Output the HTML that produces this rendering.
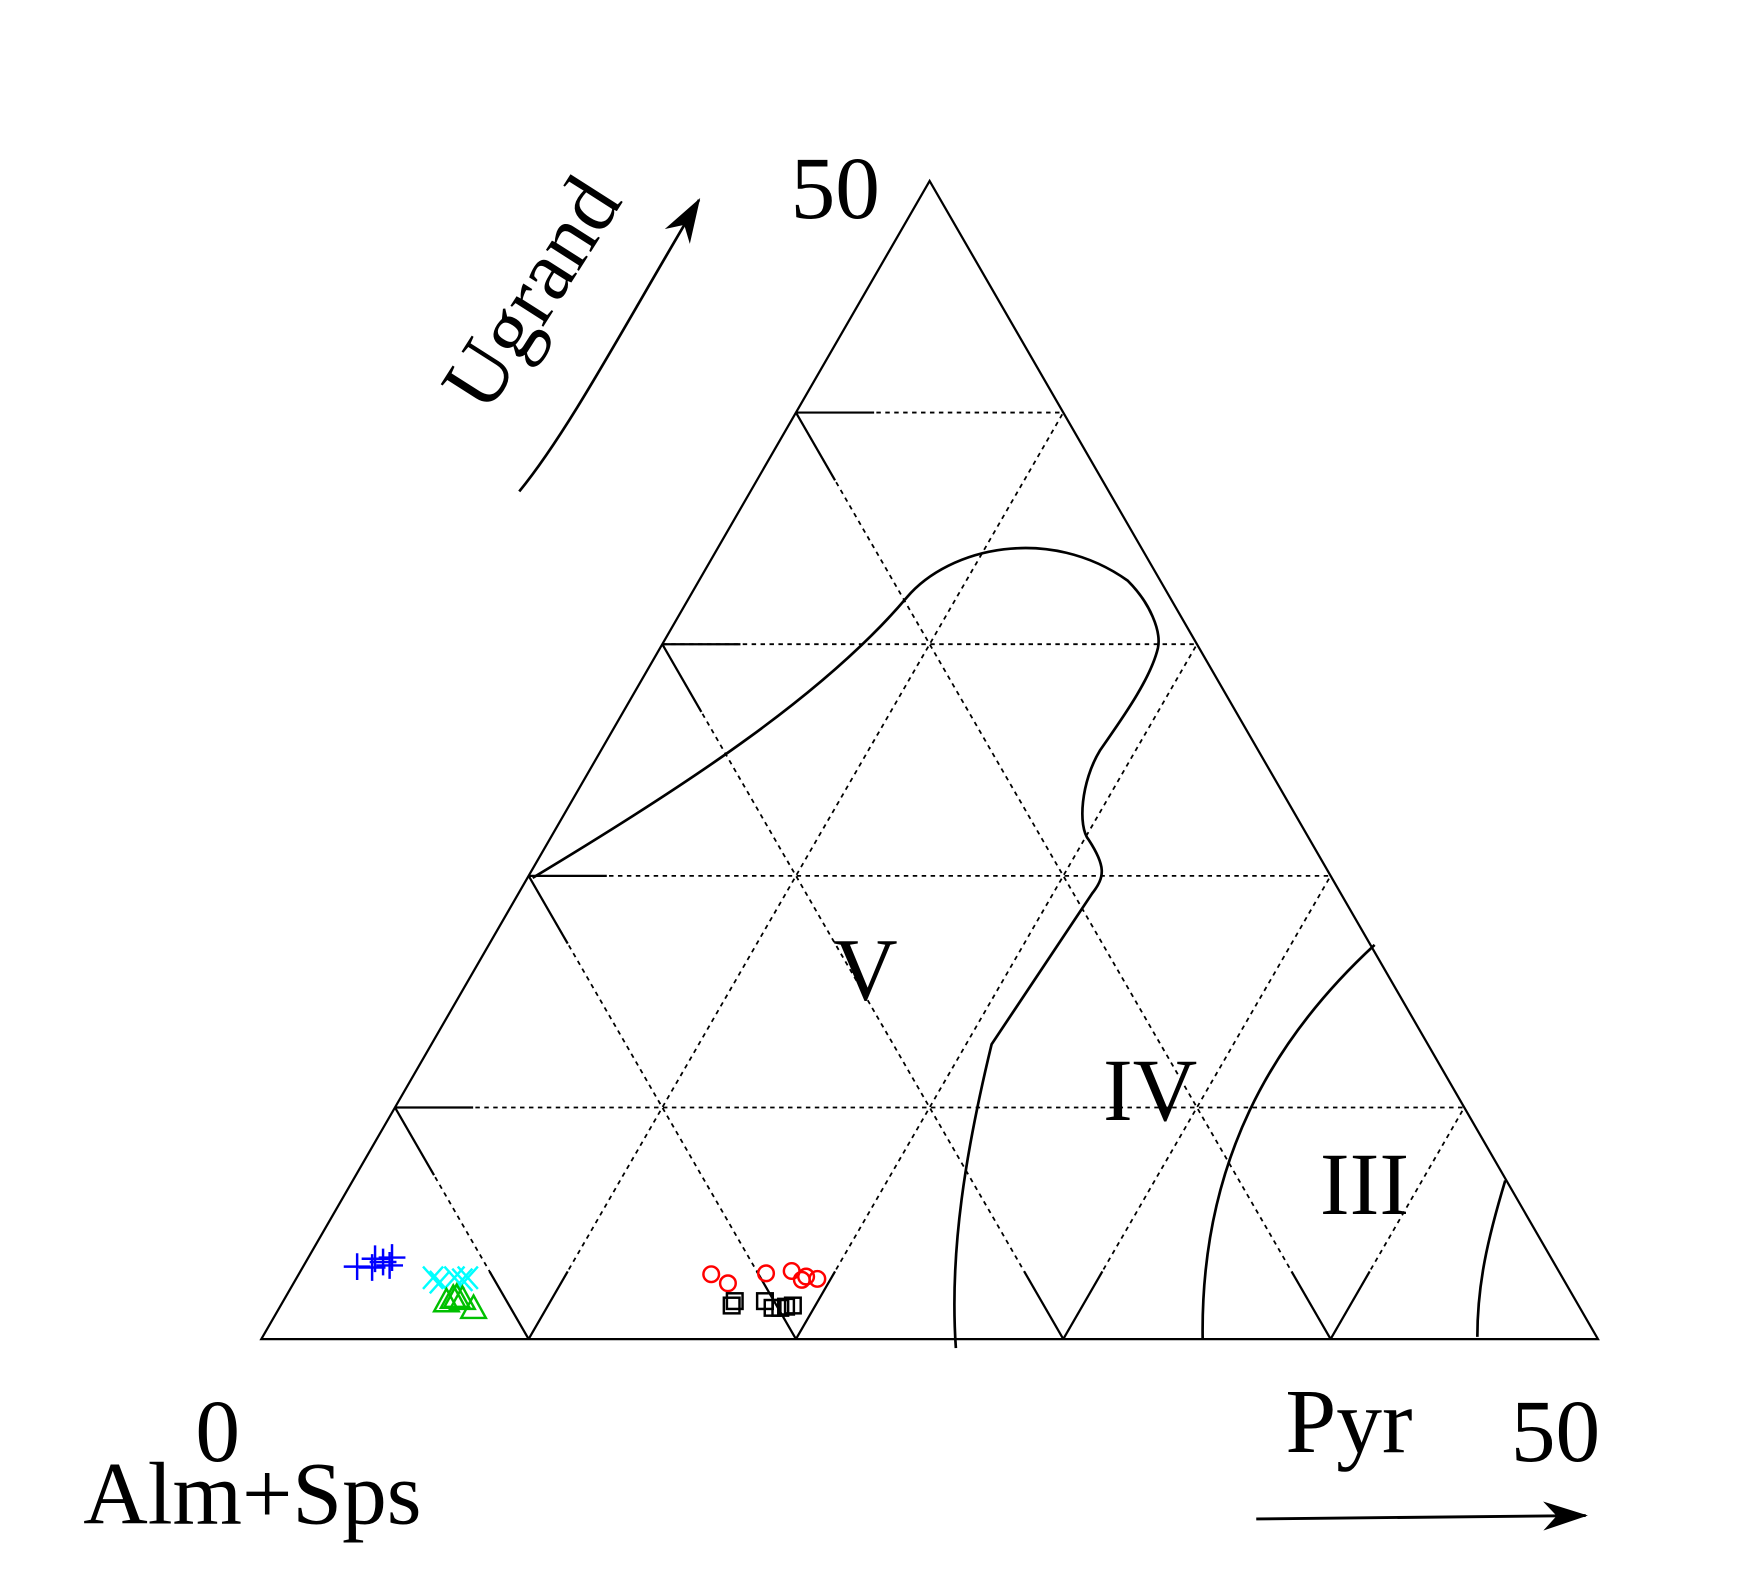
<!DOCTYPE html>
<html><head><meta charset="utf-8"><style>
html,body{margin:0;padding:0;background:#fff;}
svg{display:block;}
text{font-family:"Liberation Serif",serif;fill:#000;}
</style></head><body>
<svg id="chart" width="1742" height="1577" viewBox="0 0 1560 1412" preserveAspectRatio="none" xmlns="http://www.w3.org/2000/svg">
<defs>
<marker id="ah2" markerWidth="40" markerHeight="26" refX="38" refY="13" orient="auto" markerUnits="userSpaceOnUse" viewBox="0 0 40 26">
<path d="M0,0 L40,13 L0,26 L12,13 Z" fill="#000"/>
</marker>
</defs>
<g id="grid"></g>
<g id="frame"></g>
<g fill="none" stroke="#000" stroke-width="2.4">
<path d="M477,786 C620,700 740,620 812,535 C850,490 940,470 1010,520 C1030,540 1040,565 1037,580 C1030,610 1000,650 985,672 C968,700 965,740 975,752 C990,775 990,785 978,800 L888,935 C865,1030 850,1120 856,1207"/>
<path d="M1231,846 C1140,930 1075,1040 1077,1198"/>
<path d="M1348,1057 C1332,1110 1323,1150 1323,1197"/>
</g>
<g id="points"></g>
<text x="708" y="195" font-size="80">50</text>
<text x="497" y="276" font-size="76" text-anchor="middle" transform="rotate(-57.5 497 276)">Ugrand</text>
<path d="M465,440 C510,385 560,290 626,179" fill="none" stroke="#000" stroke-width="2.4" marker-end="url(#ah2)"/>
<text x="775" y="895" font-size="80" text-anchor="middle">V</text>
<text x="1030" y="1003" font-size="80" text-anchor="middle">IV</text>
<text x="1222" y="1087" font-size="80" text-anchor="middle">III</text>
<text x="195" y="1308" font-size="80" text-anchor="middle">0</text>
<text x="226" y="1364" font-size="80" text-anchor="middle">Alm+Sps</text>
<text x="1208" y="1300" font-size="82" text-anchor="middle">Pyr</text>
<text x="1393" y="1308" font-size="80" text-anchor="middle">50</text>
<path d="M1125,1360 L1420,1357" fill="none" stroke="#000" stroke-width="2.6" marker-end="url(#ah2)"/>
</svg>
<script>
// Ternary data: pyr (%) and ugrand (%) for each series
const bluePyr = [2.02, 2.52, 2.89, 3.13, 2.60, 3.21];
const blueUgr = [3.13, 3.47, 3.33, 3.52, 3.09, 3.18];
const cyanPyr = [5.10, 5.45, 5.90, 6.24, 6.40];
const cyanUgr = [2.65, 2.46, 2.65, 2.56, 2.65];
const greenPyr = [6.13, 6.31, 6.42, 6.68, 7.29];
const greenUgr = [1.59, 1.74, 1.78, 1.69, 1.30];
const redPyr = [15.43, 16.25, 17.46, 18.37, 18.94, 19.03, 19.50];
const redUgr = [2.80, 2.41, 2.84, 2.94, 2.56, 2.70, 2.60];
const blackPyr = [16.87, 16.89, 18.02, 18.45, 18.74, 18.93, 19.16];
const blackUgr = [1.45, 1.64, 1.64, 1.35, 1.35, 1.40, 1.45];
const gridTicks = [10, 20, 30, 40];

const NS = 'http://www.w3.org/2000/svg';
const X0 = 234, X1 = 1431, YB = 1199, H = 1037, MAXV = 50;
function tx(p, u) { return X0 + (p + u / 2) / MAXV * (X1 - X0); }
function ty(p, u) { return YB - u / MAXV * H; }
function mk(tag, attrs, parent) {
  const e = document.createElementNS(NS, tag);
  for (const k in attrs) e.setAttribute(k, attrs[k]);
  parent.appendChild(e);
  return e;
}
const grid = document.getElementById('grid');
const frame = document.getElementById('frame');
const pts = document.getElementById('points');
const TL = 70;
function seg(x1, y1, x2, y2, dashed, name) {
  const e = mk('line', {x1, y1, x2, y2, stroke: '#000', 'stroke-width': dashed ? 1.6 : 2, 'stroke-dasharray': dashed ? '4 4' : 'none'}, grid);
  
  
}
function tick(xa, ya, xb, yb, name) {
  const L = Math.hypot(xb - xa, yb - ya);
  seg(xa, ya, xa + (xb - xa) * TL / L, ya + (yb - ya) * TL / L, false, name);
}
gridTicks.forEach(v => {
  let ax = tx(0, v), ay = ty(0, v), bx = tx(MAXV - v, v), by = ty(MAXV - v, v);
  seg(ax, ay, bx, by, true, 'gridline-ugrand-' + v);
  tick(ax, ay, bx, by, 'tick-ugrand-' + v);
  ax = tx(0, v); ay = ty(0, v); bx = tx(v, 0); by = ty(v, 0);
  seg(ax, ay, bx, by, true, 'gridline-alm-' + v);
  tick(ax, ay, bx, by, 'tick-alm-left-' + v);
  tick(bx, by, ax, ay, 'tick-alm-base-' + v);
  ax = tx(v, 0); ay = ty(v, 0); bx = tx(v, MAXV - v); by = ty(v, MAXV - v);
  seg(ax, ay, bx, by, true, 'gridline-pyr-' + v);
  tick(ax, ay, bx, by, 'tick-pyr-' + v);
});
const tri = mk('polygon', {points: `${tx(0,0)},${ty(0,0)} ${tx(MAXV,0)},${ty(MAXV,0)} ${tx(0,MAXV)},${ty(0,MAXV)}`, fill: 'none', stroke: '#000', 'stroke-width': 2}, frame);



function series(P, U, color, shape, name) {
  const g = mk('g', {fill: 'none', stroke: color, 'stroke-width': 2.2}, pts);
  
  
  P.forEach((p, i) => {
    const x = tx(p, U[i]), y = ty(p, U[i]);
    let e;
    if (shape === 'plus') e = mk('path', {d: `M${x-12},${y}H${x+12}M${x},${y-12}V${y+12}`}, g);
    else if (shape === 'x') e = mk('path', {d: `M${x-9},${y-10}L${x+9},${y+10}M${x-9},${y+10}L${x+9},${y-10}`}, g);
    else if (shape === 'tri') e = mk('path', {d: `M${x},${y-12}L${x+11},${y+8}L${x-11},${y+8}Z`}, g);
    else if (shape === 'circ') e = mk('circle', {cx: x, cy: y, r: 7}, g);
    else e = mk('rect', {x: x - 7, y: y - 7, width: 14, height: 14}, g);
    
    
  });
}
series(bluePyr, blueUgr, '#0000ff', 'plus', 'series-blue');
series(cyanPyr, cyanUgr, '#00ffff', 'x', 'series-cyan');
series(greenPyr, greenUgr, '#00c000', 'tri', 'series-green');
series(redPyr, redUgr, '#ff0000', 'circ', 'series-red');
series(blackPyr, blackUgr, '#000000', 'sq', 'series-black');
</script>
</body></html>
